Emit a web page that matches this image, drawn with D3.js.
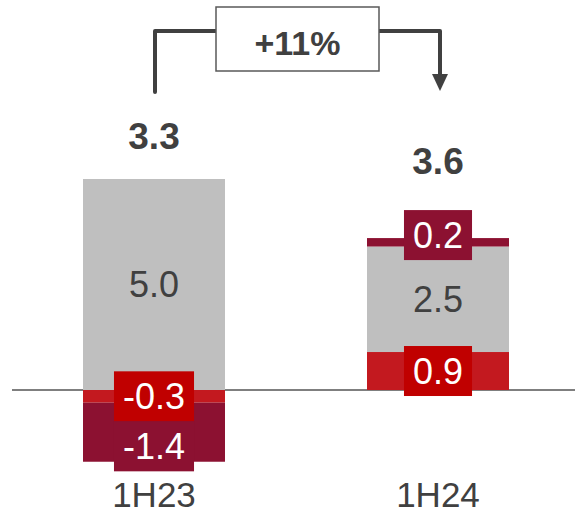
<!DOCTYPE html>
<html>
<head>
<meta charset="utf-8">
<script src="https://cdn.jsdelivr.net/npm/d3@7/dist/d3.min.js"></script>
<style>
  html, body { margin: 0; padding: 0; background: #fff; }
  svg { display: block; font-family: "Liberation Sans", Arial, sans-serif; }
</style>
</head>
<body>
<svg id="chart" width="575" height="515"></svg>
<script>
// Half-year periods on the x axis
const categories = ["1H23", "1H24"];
// Components of each bar, stacked from the zero line outwards
const redValues = [-0.3, 0.9];
const greyValues = [5.0, 2.5];
const darkValues = [-1.4, 0.2];
// Bar totals shown above each column
const totals = [3.3, 3.6];
// Growth between the two periods
const growthLabel = "+11%";

const colors = {
  red: "#C3191F",
  redBox: "#C00000",
  grey: "#BFBFBF",
  dark: "#8C1131",
  text: "#404040",
  axis: "#7F7F7F"
};

const svg = d3.select("#chart");

const rows = categories.map((c, i) => ({
  cat: c, red: redValues[i], grey: greyValues[i], dark: darkValues[i]
}));
const keys = ["red", "grey", "dark"];
const series = d3.stack().keys(keys).offset(d3.stackOffsetDiverging)(rows);

const x = d3.scaleBand().domain(categories).range([12, 580]).paddingInner(0.5).paddingOuter(0.25);
const y = d3.scaleLinear().domain([-2, 7]).range([474.4, 94.6]);

// Zero line
svg.append("line")
  .attr("x1", x.range()[0]).attr("x2", 575)
  .attr("y1", y(0)).attr("y2", y(0))
  .attr("stroke", colors.axis).attr("stroke-width", 2);

// Stacked segments
const segs = [];
series.forEach(s => {
  s.forEach((d, i) => {
    segs.push({ key: s.key, cat: categories[i], y0: d[0], y1: d[1], value: d.data[s.key] });
  });
});

svg.append("g").selectAll("rect").data(segs).join("rect")
  .attr("x", d => x(d.cat))
  .attr("width", x.bandwidth())
  .attr("y", d => y(Math.max(d.y0, d.y1)))
  .attr("height", d => Math.abs(y(d.y0) - y(d.y1)))
  .attr("fill", d => colors[d.key]);

// Value labels in the grey segments
svg.append("g").selectAll("text").data(segs.filter(d => d.key === "grey")).join("text")
  .attr("x", d => x(d.cat) + x.bandwidth() / 2)
  .attr("y", d => y((d.y0 + d.y1) / 2))
  .attr("dy", "0.36em")
  .attr("text-anchor", "middle")
  .attr("font-size", 36)
  .attr("fill", colors.text)
  .text(d => d.value.toFixed(1));

// Boxed labels for the thin coloured segments
const boxH = 50, boxPad = 9, labelSize = 36;
const boxG = svg.append("g");
const topEdge = {};
categories.forEach(cat => {
  const colSegs = segs.filter(d => d.cat === cat);
  const topValue = d3.max(colSegs, d => Math.max(d.y0, d.y1));
  let lastBottom = -Infinity, lastTop = Infinity, boxTop = Infinity;
  const thin = colSegs.filter(d => d.key !== "grey")
    .sort((a, b) => Math.abs(a.y0) - Math.abs(b.y0));
  thin.forEach(d => {
    let mid = y((d.y0 + d.y1) / 2);
    // a box capping the stack sits just over the bar's top edge
    if (d.value > 0 && d.y1 === topValue) mid = y(d.y1) - 3;
    let top = mid - boxH / 2;
    if (d.value < 0 && top < lastBottom) top = lastBottom;
    if (d.value > 0 && top + boxH > lastTop) top = lastTop - boxH;
    const txt = boxG.append("text")
      .attr("x", x(cat) + x.bandwidth() / 2)
      .attr("y", top + boxH / 2)
      .attr("dy", "0.36em")
      .attr("text-anchor", "middle")
      .attr("font-size", labelSize)
      .attr("fill", "#fff")
      .text(d.value.toFixed(1));
    const w = txt.node().getComputedTextLength() + boxPad * 2;
    boxG.insert("rect", () => txt.node())
      .attr("x", x(cat) + x.bandwidth() / 2 - w / 2)
      .attr("y", top).attr("width", w).attr("height", boxH)
      .attr("fill", d.key === "red" ? colors.redBox : colors.dark);
    lastBottom = top + boxH;
    lastTop = top;
    boxTop = Math.min(boxTop, top);
  });
  topEdge[cat] = Math.min(y(topValue) - 30, boxTop - 36);
});

// Totals above each column
svg.append("g").selectAll("text").data(categories).join("text")
  .attr("x", c => x(c) + x.bandwidth() / 2)
  .attr("y", c => topEdge[c])
  .attr("text-anchor", "middle")
  .attr("font-size", 37)
  .attr("font-weight", "bold")
  .attr("fill", colors.text)
  .text((c, i) => totals[i].toFixed(1));

// Category labels
svg.append("g").selectAll("text").data(categories).join("text")
  .attr("x", c => x(c) + x.bandwidth() / 2)
  .attr("y", 507)
  .attr("text-anchor", "middle")
  .attr("font-size", 35)
  .attr("fill", colors.text)
  .text(c => c);

// Growth connector with arrow
const cx0 = x(categories[0]) + x.bandwidth() / 2 + 1;
const cx1 = x(categories[1]) + x.bandwidth() / 2 + 2;
const lineY = 31;
const arrow = svg.append("g").attr("stroke", colors.text).attr("stroke-width", 4).attr("fill", "none");
arrow.append("path")
  .attr("d", `M${cx0},92 V${lineY} H${cx1} V75`)
  .attr("stroke-linejoin", "round")
  .attr("stroke-linecap", "round");
svg.append("path")
  .attr("d", `M${cx1 - 8},74 L${cx1 + 8},74 L${cx1},91 Z`)
  .attr("fill", colors.text);

const boxW = 163, boxHt = 64;
const bx = (cx0 + cx1) / 2;
svg.append("rect")
  .attr("x", bx - boxW / 2).attr("y", 7)
  .attr("width", boxW).attr("height", boxHt)
  .attr("fill", "#fff").attr("stroke", "#595959").attr("stroke-width", 1.5);
svg.append("text")
  .attr("x", bx).attr("y", 55)
  .attr("text-anchor", "middle")
  .attr("font-size", 34)
  .attr("font-weight", "bold")
  .attr("fill", colors.text)
  .text(growthLabel);
</script>
</body>
</html>
